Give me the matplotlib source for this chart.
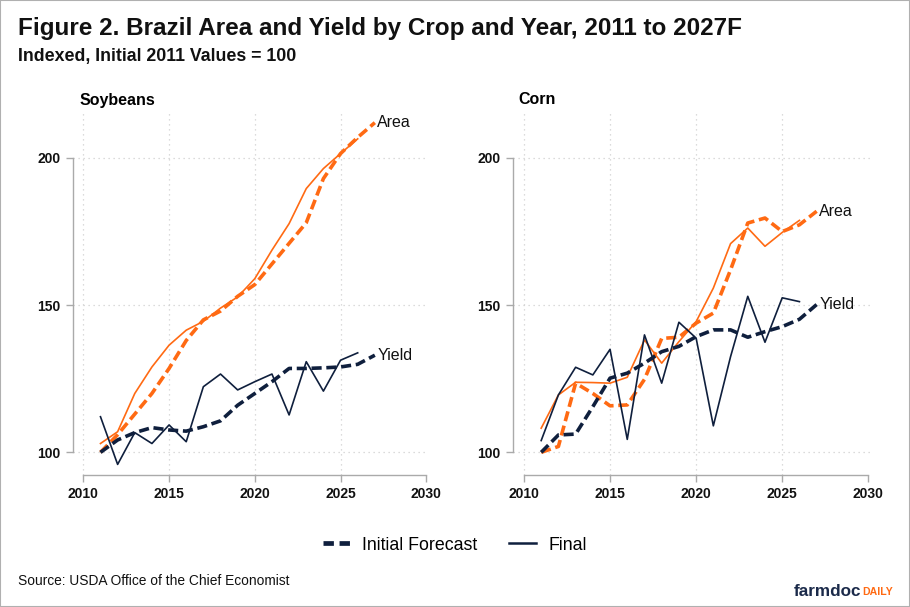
import matplotlib
matplotlib.use("Agg")
import matplotlib.pyplot as plt
from matplotlib.lines import Line2D
from matplotlib.patches import Rectangle

plt.rcParams['font.family'] = ['Liberation Sans', 'DejaVu Sans']

years_init = list(range(2011, 2028))
years_final = list(range(2011, 2027))

soy_area_init = [100, 106, 113, 120, 128.5, 138, 145, 148, 153, 157, 164, 171, 178, 193, 201.5, 207, 212]
soy_area_final = [103, 107, 120, 129, 136.4, 141.5, 144.5, 149, 152.8, 159, 168.7, 177.7, 189.6, 196.4, 201.5, 206.5]
soy_yield_init = [100, 104.2, 106.7, 108.4, 107.6, 107.2, 108.7, 110.7, 116, 120, 124, 128.5, 128.5, 128.7, 129, 129.9, 133]
soy_yield_final = [112.1, 95.9, 106.7, 103, 109.3, 103.6, 122.3, 126.6, 121.2, 124, 126.6, 112.7, 130.8, 120.8, 131.3, 133.8]

corn_area_init = [100, 102, 123.5, 120, 115.8, 116.1, 124.8, 138.7, 139.1, 143.9, 147.3, 162, 177.9, 179.6, 175, 177.3, 181.9]
corn_area_final = [108.2, 119.5, 123.8, 123.7, 123.5, 125.5, 138.2, 130.3, 137.6, 144.4, 155.8, 170.9, 176.2, 170, 174.7, 178.8]
corn_yield_init = [100, 105.9, 106.2, 115.5, 125.2, 126.9, 130.3, 134.2, 136, 139.3, 141.6, 141.6, 139.1, 141, 142.7, 145.2, 150.2]
corn_yield_final = [104, 119.5, 128.9, 126.3, 135, 104.4, 139.9, 123.5, 144.2, 138.8, 109, 132.5, 153, 137.4, 152.5, 151.2]

panels = ["Soybeans", "Corn"]
xticks = [2010, 2015, 2020, 2025, 2030]
yticks = [100, 150, 200]

NAVY = "#0f1f3d"
ORANGE = "#ff6a13"
W, H = 910, 607

fig = plt.figure(figsize=(W / 100, H / 100), dpi=100)
fig.patches.append(Rectangle((0, 0), 1, 1, transform=fig.transFigure, fill=False,
                             edgecolor="#b0b0b0", linewidth=1.5))

def px_axes(x0, y0, x1, y1):
    return fig.add_axes([x0 / W, 1 - y1 / H, (x1 - x0) / W, (y1 - y0) / H])

ax1 = px_axes(72.7, 110, 428, 475)
ax2 = px_axes(513.3, 110, 870, 475)

data = [
    (ax1, soy_area_init, soy_area_final, soy_yield_init, soy_yield_final),
    (ax2, corn_area_init, corn_area_final, corn_yield_init, corn_yield_final),
]

dash = (2.8, 1.3)
for ax, ai, af, yi, yf in data:
    ax.set_xlim(2009.38, 2030.1)
    ax.set_ylim(92.3, 216.3)
    for x in [2010, 2015, 2020, 2025]:
        ax.axvline(x, color="#d0d0d0", lw=0.9, ls=(0, (1, 3)), zorder=0)
    for y in yticks:
        ax.axhline(y, color="#d0d0d0", lw=0.9, ls=(0, (1, 3)), zorder=0)
    ax.plot(years_final, af, color=ORANGE, lw=1.2, zorder=3)
    ax.plot(years_init, ai, color=ORANGE, lw=2.6, ls=(0, dash), zorder=3)
    ax.plot(years_final, yf, color=NAVY, lw=1.2, zorder=3)
    ax.plot(years_init, yi, color=NAVY, lw=2.6, ls=(0, dash), zorder=3)
    ax.text(2027.15, ai[-1], "Area", fontsize=11.5, color="#111111", va="center", ha="left")
    ax.text(2027.15, yi[-1], "Yield", fontsize=11.5, color="#111111", va="center", ha="left")
    ax.set_xticks(xticks)
    ax.set_yticks(yticks)
    for s in ["top", "right"]:
        ax.spines[s].set_visible(False)
    ax.spines["left"].set_bounds(100, 200)
    ax.spines["bottom"].set_bounds(2010, 2030)
    for s in ["left", "bottom"]:
        ax.spines[s].set_color("#aaaaaa")
        ax.spines[s].set_linewidth(1.0)
    ax.tick_params(axis="both", colors="#aaaaaa", labelcolor="#111111", length=5, width=1.0,
                   labelsize=10)
    ax.tick_params(axis="x", pad=4)
    ax.tick_params(axis="y", pad=4)
    for lab in ax.get_xticklabels() + ax.get_yticklabels():
        lab.set_fontweight("bold")
    ax.patch.set_alpha(0)

fig.text(80 / W, 1 - 100 / H, panels[0], fontsize=11.5, fontweight="bold", va="center", ha="left")
fig.text(518 / W, 1 - 100 / H, panels[1], fontsize=11.5, fontweight="bold", va="center", ha="left")

fig.text(18 / W, 1 - 28 / H, "Figure 2. Brazil Area and Yield by Crop and Year, 2011 to 2027F",
         fontsize=17.5, fontweight="bold", va="center", ha="left", color="#111111")
fig.text(18 / W, 1 - 57 / H, "Indexed, Initial 2011 Values = 100",
         fontsize=12.8, fontweight="bold", va="center", ha="left", color="#111111")

handles = [Line2D([], [], color=NAVY, lw=3.4, ls=(0, (2.2, 1.2))),
           Line2D([], [], color=NAVY, lw=1.8)]
fig.legend(handles, ["Initial Forecast", "Final"], loc="center", bbox_to_anchor=(455 / W, 1 - 545 / H),
           ncol=2, frameon=False, fontsize=12.8, handlelength=1.5, columnspacing=1.8, handletextpad=0.7)

fig.text(18 / W, 1 - 581 / H, "Source: USDA Office of the Chief Economist",
         fontsize=9.9, va="center", ha="left", color="#111111")
t1 = fig.text(794 / W, 1 - 591 / H, "farmdoc", fontsize=12.3, fontweight="bold", color="#1b2a4a",
              va="center", ha="left")
fig.canvas.draw()
bb = t1.get_window_extent()
fig.text((bb.x1 + 0.3) / W, 1 - 592 / H, "DAILY", fontsize=7.6, fontweight="bold", color=ORANGE,
         va="center", ha="left")

fig.savefig("out.png", dpi=100)
